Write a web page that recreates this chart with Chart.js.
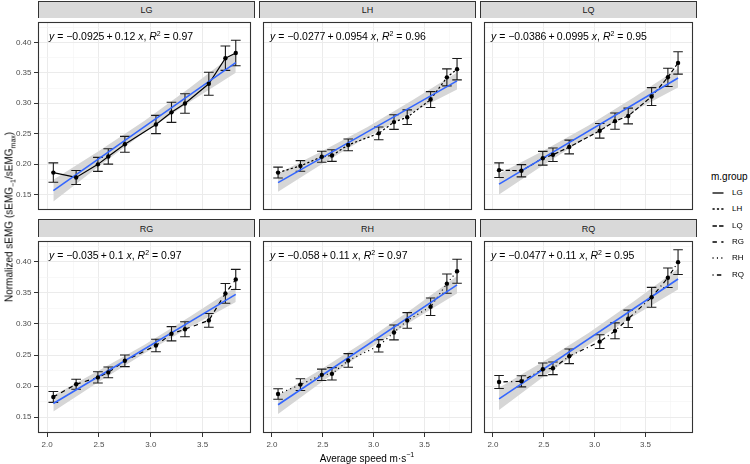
<!DOCTYPE html>
<html>
<head>
<meta charset="utf-8">
<script src="https://cdn.jsdelivr.net/npm/chart.js@4.4.1/dist/chart.umd.min.js"></script>
<style>
  html, body { margin: 0; padding: 0; background: #fff; }
  #wrap { position: relative; width: 750px; height: 464px; overflow: hidden;
          font-family: "Liberation Sans", Arial, sans-serif; }
  #wrap canvas { position: absolute; }
  .strip { position: absolute; box-sizing: border-box; background: #D9D9D9;
           border: 1px solid #333; border-bottom: none; color: #1A1A1A;
           font-size: 9px; text-align: center; }
  .eq { position: absolute; font-size: 10.5px; line-height: 12px; color: #000; white-space: nowrap; }
  .eq sup { font-size: 7px; vertical-align: 4px; line-height: 0; }
  .title { position: absolute; font-size: 10px; color: #000; white-space: nowrap; }
  .title sup, .title sub { font-size: 7px; line-height: 0; }
  #ytitle { left: 9px; top: 217px; transform: translate(-50%, -50%) rotate(-90deg); }
  #xtitle { left: 367px; top: 458px; transform: translate(-50%, -50%); }
  .leg { position: absolute; font-size: 8px; color: #000; white-space: nowrap; line-height: 10px; }
</style>
</head>
<body>
<div id="wrap"></div>
<script>
// --- DATEN ---
const groups = ['LG', 'LH', 'LQ', 'RG', 'RH', 'RQ'];
const speeds = [2.06, 2.28, 2.49, 2.59, 2.75, 3.05, 3.20, 3.33, 3.56, 3.72, 3.82];

// Mittelwerte und Fehlerbalken (+/-) je Gruppe
const meanLG = [0.186, 0.178, 0.1995, 0.2125, 0.2325, 0.265, 0.285, 0.2995, 0.332, 0.374, 0.3825];
const errLG  = [0.016, 0.0115, 0.0115, 0.0126, 0.013, 0.015, 0.0165, 0.016, 0.019, 0.020, 0.021];
const meanLH = [0.186, 0.197, 0.212, 0.214, 0.2315, 0.2505, 0.269, 0.277, 0.306, 0.3425, 0.356];
const errLH  = [0.009, 0.0087, 0.009, 0.0095, 0.0097, 0.0105, 0.012, 0.012, 0.013, 0.014, 0.0176];
const meanLQ = [0.190, 0.189, 0.2095, 0.2153, 0.228, 0.2547, 0.2705, 0.279, 0.311, 0.3426, 0.3663];
const errLQ  = [0.012, 0.010, 0.0113, 0.011, 0.0113, 0.012, 0.0134, 0.013, 0.0147, 0.015, 0.0184];
const meanRG = [0.1825, 0.203, 0.214, 0.222, 0.2407, 0.2653, 0.2842, 0.2915, 0.3057, 0.3492, 0.3717];
const errRG  = [0.0087, 0.008, 0.009, 0.0087, 0.0094, 0.010, 0.0115, 0.012, 0.011, 0.016, 0.0162];
const meanRH = [0.1872, 0.2024, 0.2181, 0.2197, 0.2412, 0.2648, 0.2863, 0.3057, 0.3277, 0.3649, 0.3848];
const errRH  = [0.0084, 0.0094, 0.0092, 0.010, 0.011, 0.010, 0.012, 0.0126, 0.014, 0.0155, 0.0194];
const meanRQ = [0.2066, 0.2077, 0.227, 0.2286, 0.248, 0.2716, 0.2889, 0.3083, 0.3429, 0.3743, 0.3995];
const errRQ  = [0.0105, 0.009, 0.0102, 0.0102, 0.0118, 0.011, 0.0128, 0.0139, 0.016, 0.0157, 0.020];

// Regressionsgerade (Anfang/Ende) und Konfidenzband
const fitX = [2.06, 3.82];
const fitLG = [0.1563, 0.3668];
const fitLH = [0.1695, 0.3367];
const fitLQ = [0.1670, 0.3415];
const fitRG = [0.1720, 0.3475];
const fitRH = [0.1700, 0.3630];
const fitRQ = [0.1795, 0.3723];

const bandX = [2.06, 2.5, 2.94, 3.38, 3.82];
const bandHiLG = [0.1743, 0.2213, 0.2711, 0.3259, 0.3835];
const bandLoLG = [0.1383, 0.1965, 0.2521, 0.3025, 0.3501];
const bandHiLH = [0.1845, 0.2217, 0.2611, 0.3047, 0.3507];
const bandLoLH = [0.1545, 0.2009, 0.2451, 0.2851, 0.3227];
const bandHiLQ = [0.1840, 0.2223, 0.2633, 0.3089, 0.3573];
const bandLoLQ = [0.1500, 0.1989, 0.2453, 0.2869, 0.3257];
const bandHiRG = [0.1850, 0.2249, 0.2667, 0.3121, 0.3596];
const bandLoRG = [0.1590, 0.2069, 0.2529, 0.2951, 0.3354];
const bandHiRH = [0.1850, 0.2287, 0.2745, 0.3246, 0.3770];
const bandLoRH = [0.1550, 0.2079, 0.2585, 0.3050, 0.3490];
const bandHiRQ = [0.1975, 0.2401, 0.2854, 0.3358, 0.3890];
const bandLoRQ = [0.1615, 0.2153, 0.2664, 0.3124, 0.3556];

// Gleichungen in den Panels
const intercepts = [-0.0925, -0.0277, -0.0386, -0.035, -0.058, -0.0477];
const slopes     = [0.12, 0.0954, 0.0995, 0.1, 0.11, 0.11];
const rSquared   = [0.97, 0.96, 0.95, 0.97, 0.97, 0.95];

// Achsenbeschriftungen
const xTicks = [2.0, 2.5, 3.0, 3.5];
const xMinor = [2.25, 2.75, 3.25, 3.75];
const yTicks = [0.15, 0.20, 0.25, 0.30, 0.35, 0.40];
const yMinor = [0.125, 0.175, 0.225, 0.275, 0.325, 0.375, 0.425];

const panelData = {
    LG: { mean: meanLG, err: errLG, fit: fitLG, hi: bandHiLG, lo: bandLoLG },
    LH: { mean: meanLH, err: errLH, fit: fitLH, hi: bandHiLH, lo: bandLoLH },
    LQ: { mean: meanLQ, err: errLQ, fit: fitLQ, hi: bandHiLQ, lo: bandLoLQ },
    RG: { mean: meanRG, err: errRG, fit: fitRG, hi: bandHiRG, lo: bandLoRG },
    RH: { mean: meanRH, err: errRH, fit: fitRH, hi: bandHiRH, lo: bandLoRH },
    RQ: { mean: meanRQ, err: errRQ, fit: fitRQ, hi: bandHiRQ, lo: bandLoRQ }
};

// --- LAYOUT / STIL ---
const colLeft = [38, 259, 480];
const rowTop = [18, 237];
const stripTop = [1, 219];
const PW = 217, PH = 196;
const X_MIN = 1.912, X_MAX = 3.967;
const Y_MIN = 0.1245, Y_MAX = 0.4335;
const CAP = 0.047; // halbe Breite der Fehlerbalken-Kappen (x-Einheiten)
const dashes = { LG: [], LH: [2.2, 2.2], LQ: [4.4, 2.2], RG: [4.4, 4.4], RH: [1.1, 3.3], RQ: [1.1, 3.3, 4.4, 3.3] };

Chart.defaults.font.family = "'Liberation Sans', Arial, sans-serif";
Chart.defaults.animation = false;

const isMajor = (v, list) => list.some(t => Math.abs(t - v) < 1e-9);

// Rahmen um jedes Panel (theme_bw)
const panelBorder = {
    id: 'panelBorder',
    afterDraw(chart) {
        const { ctx, chartArea: a } = chart;
        ctx.save();
        ctx.strokeStyle = '#333333';
        ctx.lineWidth = 1.1;
        ctx.strokeRect(a.left + 0.5, a.top + 0.5, a.right - a.left - 1, a.bottom - a.top - 1);
        ctx.restore();
    }
};

function makeScale(axis, show) {
    const major = axis === 'x' ? xTicks : yTicks;
    const minor = axis === 'x' ? xMinor : yMinor;
    return {
        type: 'linear',
        min: axis === 'x' ? X_MIN : Y_MIN,
        max: axis === 'x' ? X_MAX : Y_MAX,
        afterBuildTicks: s => {
            s.ticks = major.concat(minor).sort((a, b) => a - b).map(v => ({ value: v }));
        },
        afterFit: s => {
            if (axis === 'x') s.height = show ? 31 : 0; else s.width = show ? 38 : 0;
            s.paddingTop = s.paddingBottom = s.paddingLeft = s.paddingRight = 0;
        },
        ticks: {
            display: show, autoSkip: false, maxRotation: 0, minRotation: 0, padding: 2.5,
            color: '#4D4D4D', font: { size: 8 },
            callback: v => isMajor(v, major) ? v.toFixed(axis === 'x' ? 1 : 2) : ''
        },
        grid: {
            color: c => isMajor(c.tick.value, major) ? '#EBEBEB' : '#F3F3F3',
            lineWidth: c => isMajor(c.tick.value, major) ? 1 : 0.6,
            drawTicks: show, tickLength: 4, tickWidth: 1,
            tickColor: c => isMajor(c.tick.value, major) ? '#333333' : 'rgba(0,0,0,0)'
        },
        border: { display: false }
    };
}

function errorBarPoints(mean, err) {
    const pts = [];
    speeds.forEach((s, i) => {
        const lo = mean[i] - err[i], hi = mean[i] + err[i];
        pts.push({ x: s, y: lo }, { x: s, y: hi }, { x: s, y: null });
        pts.push({ x: s - CAP, y: lo }, { x: s + CAP, y: lo }, { x: s, y: null });
        pts.push({ x: s - CAP, y: hi }, { x: s + CAP, y: hi }, { x: s, y: null });
    });
    return pts;
}

const fmt = v => String(v).replace('-', '\u2212');
const wrap = document.getElementById('wrap');

groups.forEach((g, idx) => {
    const r = Math.floor(idx / 3), c = idx % 3;
    const d = panelData[g];
    const showY = c === 0, showX = r === 1;
    const ml = showY ? 38 : 0, mb = showX ? 31 : 0;

    const cv = document.createElement('canvas');
    cv.width = PW + ml; cv.height = PH + mb;
    cv.style.left = (colLeft[c] - ml) + 'px';
    cv.style.top = rowTop[r] + 'px';
    wrap.appendChild(cv);

    new Chart(cv.getContext('2d'), {
        type: 'line',
        data: {
            datasets: [
                { data: bandX.map((x, i) => ({ x, y: d.hi[i] })), borderColor: 'rgba(0,0,0,0)', pointRadius: 0, fill: false, order: 10 },
                { data: bandX.map((x, i) => ({ x, y: d.lo[i] })), borderColor: 'rgba(0,0,0,0)', pointRadius: 0, fill: '-1', backgroundColor: '#D6D6D6', order: 9 },
                { data: errorBarPoints(d.mean, d.err), borderColor: '#1A1A1A', borderWidth: 1.1, pointRadius: 0, spanGaps: false, order: 4 },
                { data: speeds.map((x, i) => ({ x, y: d.mean[i] })), borderColor: '#000', borderWidth: 1.2, borderDash: dashes[g], pointRadius: 0, order: 3 },
                { data: fitX.map((x, i) => ({ x, y: d.fit[i] })), borderColor: '#3366FF', borderWidth: 1.6, pointRadius: 0, order: 2 },
                { data: speeds.map((x, i) => ({ x, y: d.mean[i] })), showLine: false, pointRadius: 2.2, pointBorderWidth: 0, pointBackgroundColor: '#000', order: 1 }
            ]
        },
        options: {
            responsive: false,
            events: [],
            layout: { padding: 0 },
            plugins: { legend: { display: false }, tooltip: { enabled: false } },
            scales: { x: makeScale('x', showX), y: makeScale('y', showY) }
        },
        plugins: [panelBorder]
    });

    // Streifen mit Gruppenname
    const st = document.createElement('div');
    st.className = 'strip';
    st.style.left = colLeft[c] + 'px';
    st.style.top = stripTop[r] + 'px';
    st.style.width = PW + 'px';
    st.style.height = (rowTop[r] - stripTop[r]) + 'px';
    st.style.lineHeight = (rowTop[r] - stripTop[r]) + 'px';
    st.textContent = g;
    wrap.appendChild(st);

    // Regressionsgleichung
    const eq = document.createElement('div');
    eq.className = 'eq';
    eq.style.left = (colLeft[c] + 11) + 'px';
    eq.style.top = (rowTop[r] + 12) + 'px';
    eq.innerHTML = '<i>y</i> = ' + fmt(intercepts[idx]) + '&thinsp;+&thinsp;' + fmt(slopes[idx]) +
        ' <i>x</i>, <i>R</i><sup>2</sup> = ' + fmt(rSquared[idx]);
    wrap.appendChild(eq);
});

// Achsentitel
const yt = document.createElement('div');
yt.className = 'title'; yt.id = 'ytitle';
yt.innerHTML = 'Normalized sEMG (sEMG<sub>\u22121</sub>/sEMG<sub>max</sub>)';
wrap.appendChild(yt);

const xt = document.createElement('div');
xt.className = 'title'; xt.id = 'xtitle';
xt.innerHTML = 'Average speed m\u00B7s<sup>\u22121</sup>';
wrap.appendChild(xt);

// Legende (m.group)
const lt = document.createElement('div');
lt.className = 'title';
lt.style.left = '711px'; lt.style.top = '170px'; lt.style.lineHeight = '13px';
lt.textContent = 'm.group';
wrap.appendChild(lt);

groups.forEach((g, i) => {
    const y = 192.7 + i * 16.4;
    const svgNS = 'http://www.w3.org/2000/svg';
    const svg = document.createElementNS(svgNS, 'svg');
    svg.setAttribute('width', '14'); svg.setAttribute('height', '6');
    svg.style.position = 'absolute';
    svg.style.left = '711px'; svg.style.top = (y - 3) + 'px';
    const ln = document.createElementNS(svgNS, 'line');
    ln.setAttribute('x1', '1.5'); ln.setAttribute('x2', '12.5');
    ln.setAttribute('y1', '3'); ln.setAttribute('y2', '3');
    ln.setAttribute('stroke', '#000'); ln.setAttribute('stroke-width', '1.3');
    if (dashes[g].length) ln.setAttribute('stroke-dasharray', dashes[g].join(' '));
    svg.appendChild(ln);
    wrap.appendChild(svg);

    const lb = document.createElement('div');
    lb.className = 'leg';
    lb.style.left = '732px'; lb.style.top = (y - 5) + 'px';
    lb.textContent = g;
    wrap.appendChild(lb);
});
</script>
</body>
</html>
